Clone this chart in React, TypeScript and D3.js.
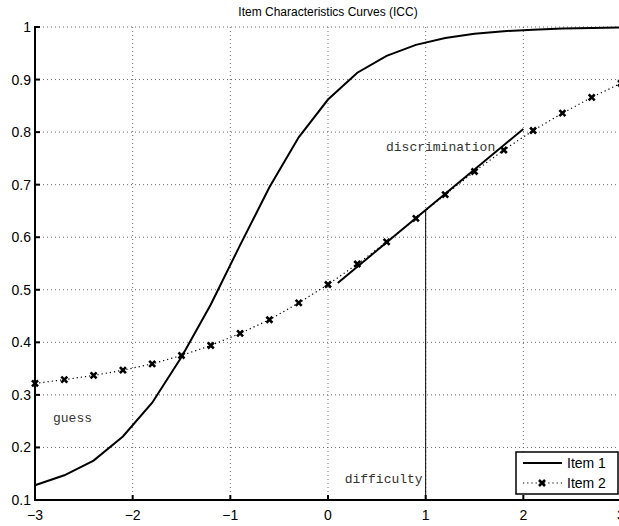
import React from "react";
import * as d3 from "d3";

const thetaValues = [-3, -2.7, -2.4, -2.1, -1.8, -1.5, -1.2, -0.9, -0.6, -0.3, 0, 0.3, 0.6, 0.9, 1.2, 1.5, 1.8, 2.1, 2.4, 2.7, 3];
const item1Values = [0.128, 0.147, 0.175, 0.221, 0.285, 0.372, 0.472, 0.585, 0.695, 0.79, 0.862, 0.913, 0.945, 0.966, 0.979, 0.987, 0.992, 0.995, 0.997, 0.998, 0.999];
const item2Values = [0.322, 0.329, 0.337, 0.347, 0.359, 0.375, 0.394, 0.417, 0.443, 0.475, 0.51, 0.549, 0.591, 0.636, 0.681, 0.725, 0.766, 0.803, 0.836, 0.866, 0.893];
const xTicks = [-3, -2, -1, 0, 1, 2, 3];
const yTicks = [0.1, 0.2, 0.3, 0.4, 0.5, 0.6, 0.7, 0.8, 0.9, 1];
const tangentX = [0.1, 2];
const tangentY = [0.513, 0.806];
const difficultyX = 1;
const difficultyY = 0.652;
const seriesNames = ["Item 1", "Item 2"];
const titleText = "Item Characteristics Curves (ICC)";

const W = 619, H = 526;
const L = 35, R = 621, T = 27, B = 500;

export default function App() {
  const x = d3.scaleLinear().domain([-3, 3]).range([L, R]);
  const y = d3.scaleLinear().domain([0.1, 1]).range([B, T]);
  const line = d3.line<[number, number]>().x(d => x(d[0])).y(d => y(d[1]));
  const p1 = thetaValues.map((t, i) => [t, item1Values[i]] as [number, number]);
  const p2 = thetaValues.map((t, i) => [t, item2Values[i]] as [number, number]);
  const tang = tangentX.map((t, i) => [t, tangentY[i]] as [number, number]);
  const sans = "'Liberation Sans', Arial, Helvetica, sans-serif";
  const mono = "'Liberation Mono', 'Courier New', monospace";
  const marker = (cx: number, cy: number, key: any) => (
    <path key={key} d={`M${cx - 3},${cy - 3}L${cx + 3},${cy + 3}M${cx - 3},${cy + 3}L${cx + 3},${cy - 3}`} stroke="#000" strokeWidth={2.6} />
  );
  const legX = 516, legY = 452, legW = 102, legH = 42;
  return (
    <svg width={W} height={H} style={{ position: "absolute", left: 0, top: 0, background: "#fff" }} fontFamily={sans}>
      <rect x={0} y={0} width={W} height={H} fill="#fff" />
      {/* grid */}
      {xTicks.filter(t => t > -3).map(t => (
        <line key={"gx" + t} x1={x(t)} x2={x(t)} y1={T} y2={B} stroke="#444" strokeWidth={0.8} strokeDasharray="1,3" />
      ))}
      {yTicks.filter(t => t > 0.1).map(t => (
        <line key={"gy" + t} x1={L} x2={R} y1={y(t)} y2={y(t)} stroke="#444" strokeWidth={0.8} strokeDasharray="1,3" />
      ))}
      {/* title */}
      <text x={(L + R) / 2} y={16} textAnchor="middle" fontSize={12}>{titleText}</text>
      {/* curves */}
      <path d={line(p1) || ""} fill="none" stroke="#000" strokeWidth={2} />
      <path d={line(p2) || ""} fill="none" stroke="#000" strokeWidth={1.2} strokeDasharray="1.2,3" />
      {p2.map((d, i) => marker(x(d[0]), y(d[1]), "m" + i))}
      {/* annotations */}
      <path d={line(tang) || ""} fill="none" stroke="#000" strokeWidth={2} />
      <line x1={x(difficultyX)} x2={x(difficultyX)} y1={y(difficultyY)} y2={B} stroke="#000" strokeWidth={1} />
      <text x={x(difficultyX) - 3} y={483} textAnchor="end" fontSize={13} fontFamily={mono} fill="#333">difficulty</text>
      <text x={386} y={151} fontSize={13} fontFamily={mono} fill="#333">discrimination</text>
      <text x={53} y={422} fontSize={13} fontFamily={mono} fill="#333">guess</text>
      {/* axes */}
      <line x1={L} x2={R} y1={B} y2={B} stroke="#000" strokeWidth={2} />
      <line x1={L} x2={L} y1={T - 1} y2={B + 1} stroke="#000" strokeWidth={2} />
      {xTicks.map(t => (
        <g key={"xt" + t}>
          <line x1={x(t)} x2={x(t)} y1={B} y2={B - 5} stroke="#000" strokeWidth={2} />
          <text x={x(t)} y={520} textAnchor="middle" fontSize={14}>{t < 0 ? "\u2212" + Math.abs(t) : String(t)}</text>
        </g>
      ))}
      {yTicks.map(t => (
        <g key={"yt" + t}>
          <line x1={L} x2={L + 5} y1={y(t)} y2={y(t)} stroke="#000" strokeWidth={2} />
          <text x={L - 4} y={y(t) + 5} textAnchor="end" fontSize={14}>{String(+t.toFixed(1))}</text>
        </g>
      ))}
      {/* legend */}
      <rect x={legX} y={legY} width={legW} height={legH} fill="#fff" stroke="#000" strokeWidth={1.5} />
      <line x1={523} x2={562} y1={463} y2={463} stroke="#000" strokeWidth={2} />
      <text x={567} y={468} fontSize={14}>{seriesNames[0]}</text>
      <line x1={523} x2={562} y1={483} y2={483} stroke="#000" strokeWidth={1.2} strokeDasharray="1.2,3" />
      {marker(542, 483, "lm")}
      <text x={567} y={488} fontSize={14}>{seriesNames[1]}</text>
    </svg>
  );
}
